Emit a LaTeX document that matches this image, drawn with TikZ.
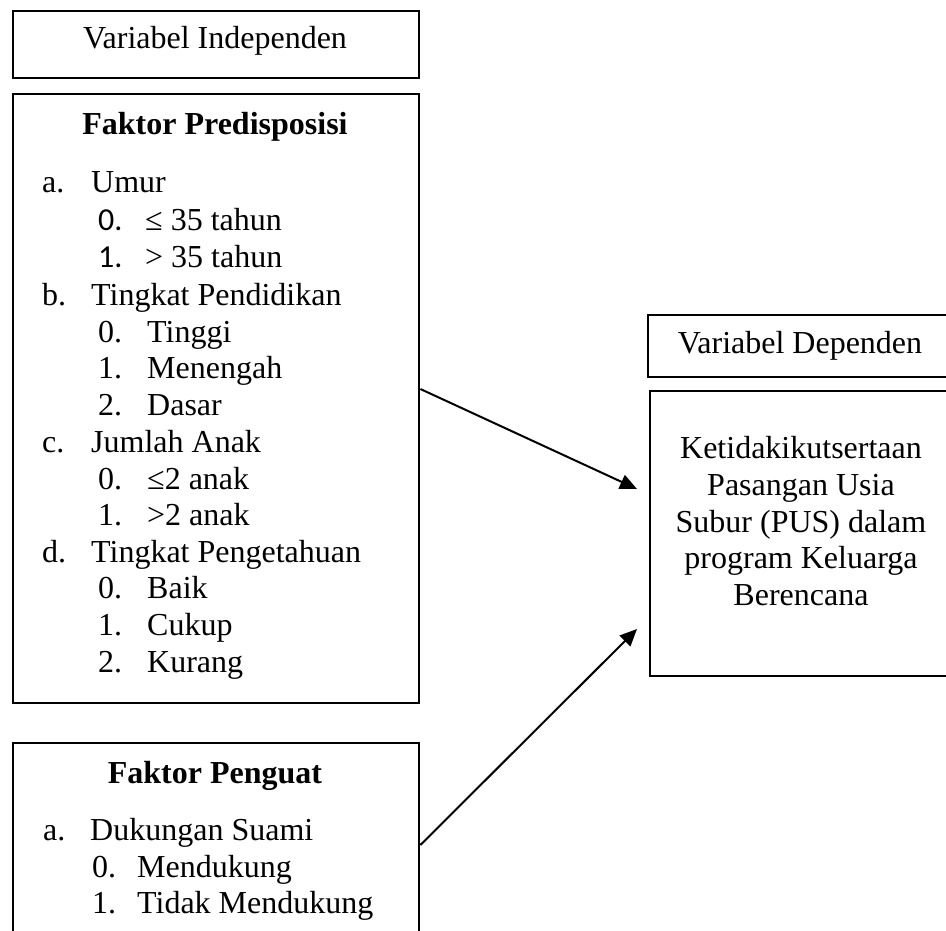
\documentclass[tikz,border=0pt]{standalone}
\usepackage{fontspec}
\setmainfont{Liberation Serif}
\newfontfamily\calib{Carlito}
\usetikzlibrary{arrows.meta}
\begin{document}
\begin{tikzpicture}[x=1pt,y=-1pt,
  font=\fontsize{32}{36.8}\selectfont,
  box/.style={draw, line width=2.4pt, rectangle, inner sep=0pt, anchor=north west},
  txt/.style={anchor=base west, inner sep=0pt},
  ctxt/.style={anchor=base, inner sep=0pt},
  btxt/.style={anchor=base, inner sep=0pt, font=\fontsize{32}{36.8}\selectfont\bfseries},
  arr/.style={line width=2pt, -{Triangle[length=17pt,width=15pt]}}]
\clip (0,0) rectangle (946,931);
\fill[white] (0,0) rectangle (946,931);
% boxes
\node[box, minimum width=406pt, minimum height=67pt] (indep) at (12,10) {};
\node[box, minimum width=406pt, minimum height=609pt] (pred) at (12,93) {};
\node[box, minimum width=406pt, minimum height=215pt] (peng) at (12,742) {};
\node[box, minimum width=306pt, minimum height=62pt] (deplab) at (647,314) {};
\node[box, minimum width=304pt, minimum height=285pt] (dep) at (649,390) {};
% headings
\node[ctxt] (tind) at (215,49) {Variabel Independen};
\node[btxt] (tpred) at (215,135) {Faktor Predisposisi};
\node[btxt] (tpeng) at (215,783) {Faktor Penguat};
\node[ctxt] (tdep) at (800,353) {Variabel Dependen};
% predisposisi list
\node[txt] (la) at (42,193) {a.};
\node[txt] (lat) at (91,193) {Umur};
\node[txt] (la0) at (98,230) {\calib 0.};
\node[txt] (la0t) at (145,230) {≤ 35 tahun};
\node[txt] (la1) at (98,267) {\calib 1.};
\node[txt] (la1t) at (145,267) {> 35 tahun};
\node[txt] (lb) at (42,305) {b.};
\node[txt] (lbt) at (91,305) {Tingkat Pendidikan};
\node[txt] (lb0) at (98,342) {0.};
\node[txt] (lb0t) at (147,342) {Tinggi};
\node[txt] (lb1) at (98,378) {1.};
\node[txt] (lb1t) at (147,378) {Menengah};
\node[txt] (lb2) at (98,415) {2.};
\node[txt] (lb2t) at (147,415) {Dasar};
\node[txt] (lc) at (42,452) {c.};
\node[txt] (lct) at (91,452) {Jumlah Anak};
\node[txt] (lc0) at (98,489) {0.};
\node[txt] (lc0t) at (147,489) {≤2 anak};
\node[txt] (lc1) at (98,525) {1.};
\node[txt] (lc1t) at (147,525) {>2 anak};
\node[txt] (ld) at (42,562) {d.};
\node[txt] (ldt) at (91,562) {Tingkat Pengetahuan};
\node[txt] (ld0) at (98,598) {0.};
\node[txt] (ld0t) at (147,598) {Baik};
\node[txt] (ld1) at (98,635) {1.};
\node[txt] (ld1t) at (147,635) {Cukup};
\node[txt] (ld2) at (98,672) {2.};
\node[txt] (ld2t) at (147,672) {Kurang};
% penguat list
\node[txt] (pa) at (43,840) {a.};
\node[txt] (pat) at (90,840) {Dukungan Suami};
\node[txt] (pa0) at (92,877) {0.};
\node[txt] (pa0t) at (137,877) {Mendukung};
\node[txt] (pa1) at (92,913) {1.};
\node[txt] (pa1t) at (137,913) {Tidak Mendukung};
% dependent text
\node[ctxt] (d1) at (801,458) {Ketidakikutsertaan};
\node[ctxt] (d2) at (801,495) {Pasangan Usia};
\node[ctxt] (d3) at (801,532) {Subur (PUS) dalam};
\node[ctxt] (d4) at (801,568) {program Keluarga};
\node[ctxt] (d5) at (801,605) {Berencana};
% arrows
\coordinate (s1) at (pred.east |- 0,389);
\coordinate (e1) at ([xshift=-12pt]dep.west |- 0,489);
\coordinate (s2) at (peng.east |- 0,845);
\coordinate (e2) at ([xshift=-12pt]dep.west |- 0,629);
\draw[arr] (s1) -- (e1);
\draw[arr] (s2) -- (e2);
\end{tikzpicture}
\end{document}
